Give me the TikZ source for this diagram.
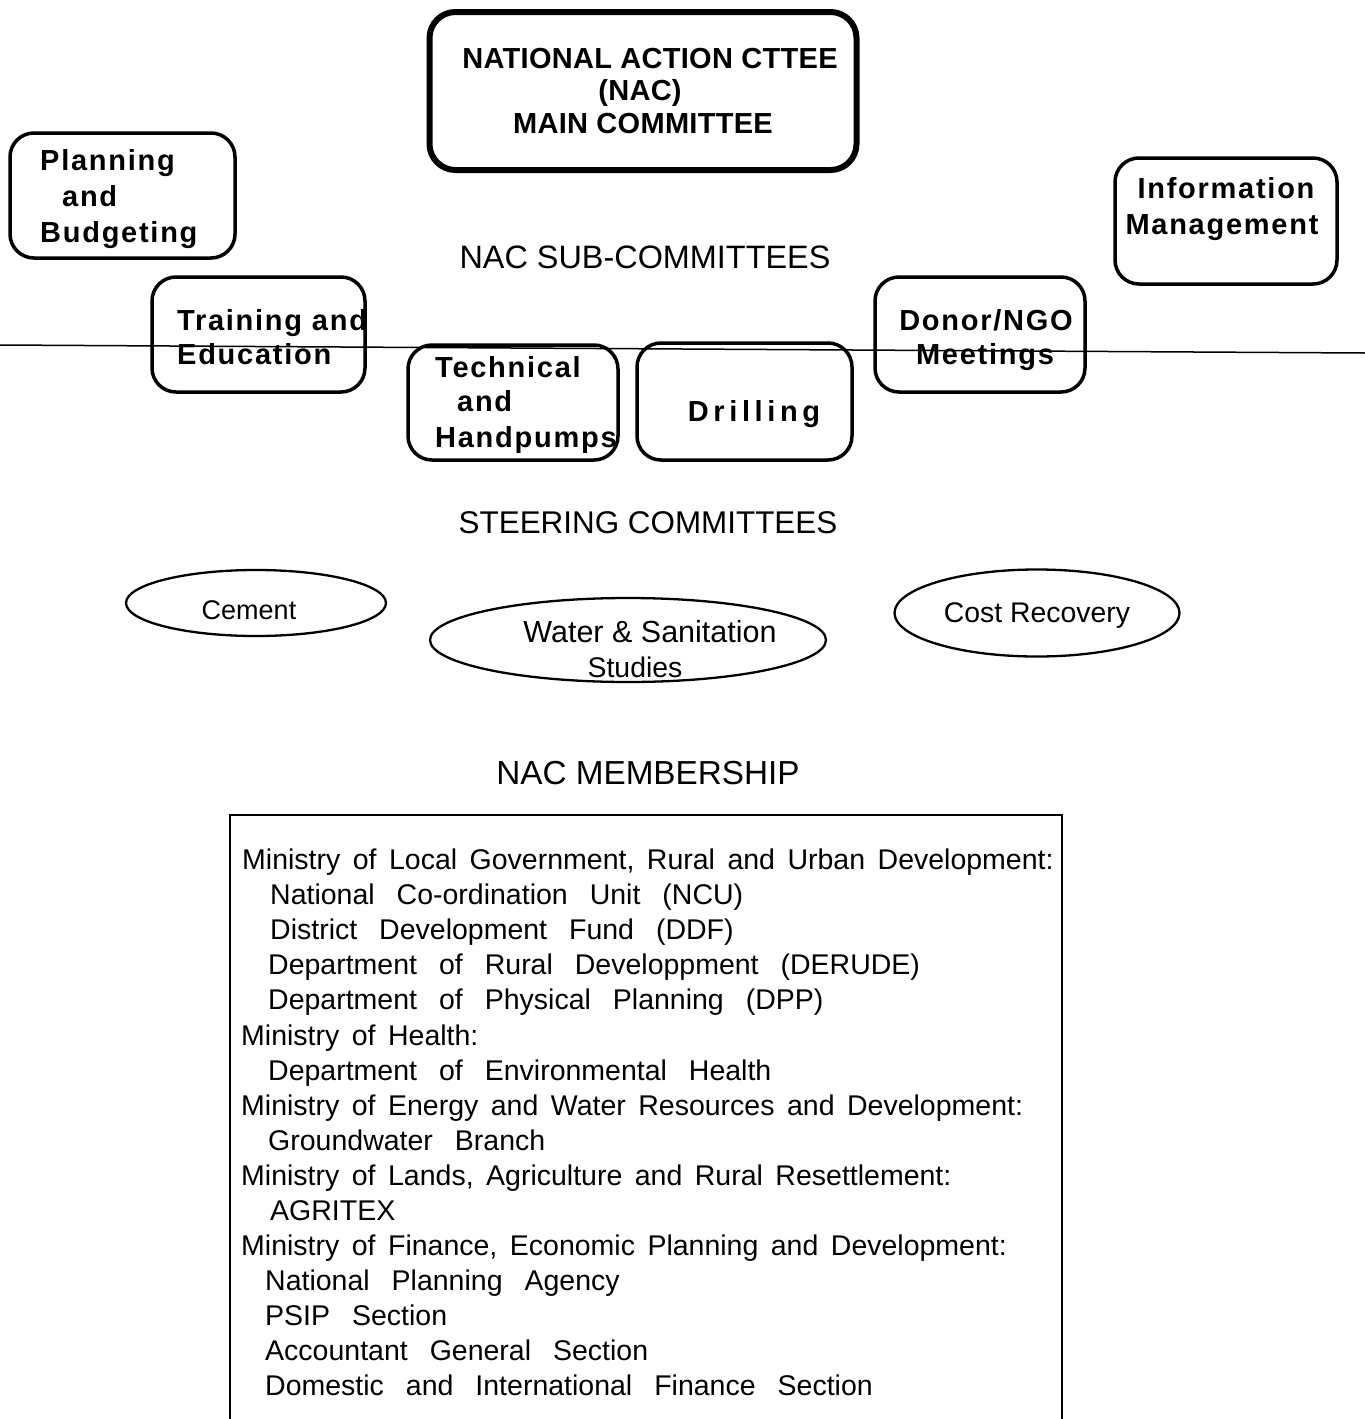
\documentclass[tikz,border=0pt]{standalone}
\usetikzlibrary{shapes.geometric}
\usepackage{fontspec}
\setmainfont{Liberation Sans}
\newfontfamily\mainboxfont[LetterSpace=1]{Liberation Sans}
\newfontfamily\boxfont[LetterSpace=6]{Liberation Sans}
\newfontfamily\drillfont[LetterSpace=16]{Liberation Sans}
\newcommand\myMinFont{\fontsize{28.5}{34}\selectfont\spaceskip=12.5pt plus 2pt minus 1pt\relax}
\newcommand\mySubFont{\fontsize{28.5}{34}\selectfont\spaceskip=22pt plus 2pt minus 1pt\relax}
\begin{document}
\begin{tikzpicture}[x=1pt,y=-1pt,
  rbox/.style={draw, line width=3.5pt, rounded corners=24pt, inner sep=0pt},
  mainbox/.style={draw, line width=6pt, rounded corners=26pt, inner sep=0pt},
  oval/.style={draw, ellipse, line width=2.3pt, inner sep=0pt},
  btext/.style={inner sep=0pt, font=\boxfont\bfseries\fontsize{29}{34}\selectfont},
  mtext/.style={inner sep=0pt, font=\mainboxfont\bfseries\fontsize{29}{34}\selectfont},
  head/.style={inner sep=0pt},
  otext/.style={inner sep=0pt, font=\fontsize{28.4}{32}\selectfont},
  mem/.style={inner sep=0pt, anchor=base west, font=\myMinFont},
  memsub/.style={inner sep=0pt, anchor=base west, font=\mySubFont}]
\useasboundingbox (0,0) rectangle (1365,1419);
% main committee
\node[mainbox, minimum width=427pt, minimum height=158pt] (main) at (643,91) {};
\node[mtext, anchor=base] (m1) at (650,68) {NATIONAL ACTION CTTEE};
\node[mtext, anchor=base] (m2) at (640,100) {(NAC)};
\node[mtext, anchor=base] (m3) at (643,133) {MAIN COMMITTEE};
% planning
\node[rbox, minimum width=225pt, minimum height=125pt] (plan) at (122.5,195.5) {};
\node[btext, anchor=base west] (p1) at (40,170) {Planning};
\node[btext, anchor=base west] (p2) at (62,206) {and};
\node[btext, anchor=base west] (p3) at (40,242) {Budgeting};
% information
\node[rbox, minimum width=222pt, minimum height=126pt] (info) at (1226,221) {};
\node[btext, anchor=base] (i1) at (1226,198) {Information};
\node[btext, anchor=base] (i2) at (1222,234) {Management};
% heading
\node[head, anchor=base, font=\fontsize{32.4}{36}\selectfont] (sub) at (645,268) {NAC SUB-COMMITTEES};
% dividing line
\coordinate (lineL) at (0,345);
\coordinate (lineR) at (1365,353);
% training
\node[rbox, minimum width=213pt, minimum height=115pt] (train) at (258.5,334.5) {};
\node[btext, anchor=base west] (t1) at (177,330) {Training and};
\node[btext, anchor=base west] (t2) at (177,364) {Education};
% technical
\node[rbox, minimum width=210pt, minimum height=115pt] (tech) at (513,402.5) {};
\node[btext, anchor=base west] (h1) at (435,377) {Technical};
\node[btext, anchor=base west] (h2) at (457,411) {and};
\node[btext, anchor=base west] (h3) at (435,447) {Handpumps};
% drilling
\node[rbox, minimum width=215pt, minimum height=117pt] (drill) at (744.5,401.5) {};
\node[inner sep=0pt, font=\drillfont\bfseries\fontsize{29}{34}\selectfont, anchor=base] (d1) at (754,421) {Drilling};
% donor
\node[rbox, minimum width=210pt, minimum height=115pt] (donor) at (980,334.5) {};
\node[btext, anchor=base] (n1) at (986,330) {Donor/NGO};
\node[btext, anchor=base] (n2) at (985,364) {Meetings};
\draw[line width=1.5pt] (lineL) -- (lineR);
% steering
\node[head, anchor=base, font=\fontsize{31.4}{36}\selectfont] (steer) at (648,533) {STEERING COMMITTEES};
\node[oval, minimum width=260pt, minimum height=66pt] (cement) at (256,603) {};
\node[otext, anchor=base, font=\fontsize{27}{32}\selectfont] (c1) at (249,619) {Cement};
\node[oval, minimum width=396pt, minimum height=84pt] (water) at (628,640) {};
\node[otext, anchor=base, font=\fontsize{30.5}{34}\selectfont] (w1) at (650,642) {Water \& Sanitation};
\node[otext, anchor=base] (w2) at (635,677) {Studies};
\node[oval, minimum width=285pt, minimum height=87pt] (cost) at (1037,613) {};
\node[otext, anchor=base] (cr) at (1037,622) {Cost Recovery};
% membership
\node[head, anchor=base, font=\fontsize{33.3}{38}\selectfont] (memb) at (648,784) {NAC MEMBERSHIP};
\coordinate (bBL) at (230,1419);
\coordinate (bTL) at (230,815);
\coordinate (bTR) at (1062,815);
\coordinate (bBR) at (1062,1419);
\draw[line width=2pt] (bBL) -- (bTL) -- (bTR) -- (bBR);
\node[mem] (l1) at (242,869) {Ministry of Local Government, Rural and Urban Development:};
\node[memsub] (l2) at (270,904) {National Co-ordination Unit (NCU)};
\node[memsub] (l3) at (270,939) {District Development Fund (DDF)};
\node[memsub] (l4) at (268,974) {Department of Rural Developpment (DERUDE)};
\node[memsub] (l5) at (268,1009) {Department of Physical Planning (DPP)};
\node[mem] (l6) at (241,1045) {Ministry of Health:};
\node[memsub] (l7) at (268,1080) {Department of Environmental Health};
\node[mem] (l8) at (241,1115) {Ministry of Energy and Water Resources and Development:};
\node[memsub] (l9) at (268,1150) {Groundwater Branch};
\node[mem] (l10) at (241,1185) {Ministry of Lands, Agriculture and Rural Resettlement:};
\node[memsub] (l11) at (270,1220) {AGRITEX};
\node[mem] (l12) at (241,1255) {Ministry of Finance, Economic Planning and Development:};
\node[memsub] (l13) at (265,1290) {National Planning Agency};
\node[memsub] (l14) at (265,1325) {PSIP Section};
\node[memsub] (l15) at (265,1360) {Accountant General Section};
\node[memsub] (l16) at (265,1395) {Domestic and International Finance Section};
\end{tikzpicture}
\end{document}
